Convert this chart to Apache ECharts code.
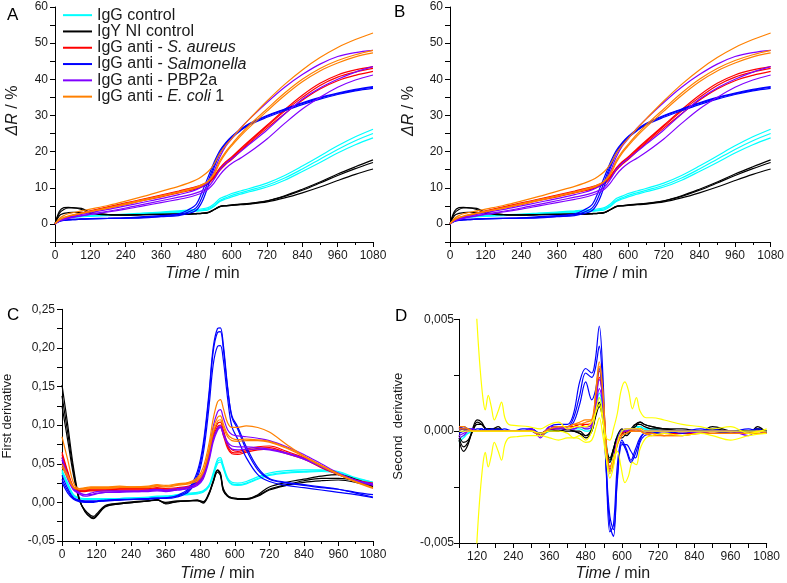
<!DOCTYPE html>
<html><head><meta charset="utf-8">
<script src="https://cdn.jsdelivr.net/npm/echarts@6/dist/echarts.min.js"></script>
<style>html,body{margin:0;padding:0;background:#fff}#c{width:787px;height:583px}</style>
</head><body><div id="c"></div>
<script>
// ---------- Panel A/B : ΔR / % ----------
const tA = [0,15,30,45,60,90,120,180,240,300,360,420,450,480,500,520,540,560,580,600,630,660,720,780,840,900,960,1020,1080];
const aCyan = [
 [0,1.3,1.7,1.9,2.0,2.2,2.3,2.5,2.7,3.0,3.3,3.6,3.8,4.0,4.2,4.5,5.5,7.0,7.7,8.4,9.1,9.8,11.3,13.4,16.0,18.8,21.6,24.1,26.2],
 [0,1.2,1.6,1.8,1.9,2.1,2.2,2.4,2.6,2.9,3.1,3.4,3.5,3.7,3.9,4.2,5.1,6.5,7.2,7.9,8.6,9.3,10.7,12.7,15.2,17.9,20.6,23.0,25.0],
 [0,1.1,1.5,1.7,1.8,2.0,2.1,2.3,2.5,2.7,2.9,3.2,3.3,3.5,3.7,3.9,4.8,6.2,6.9,7.5,8.2,8.9,10.2,12.1,14.5,17.0,19.6,21.9,23.8]
];
const aBlack = [
 [0,3.5,4.5,4.6,4.5,4.3,3.2,2.6,2.5,2.6,2.7,2.7,2.8,2.9,3.0,3.2,4.0,4.9,5.1,5.3,5.5,5.7,6.4,7.8,9.6,11.6,13.8,15.8,17.7],
 [0,3.0,4.0,4.4,4.4,4.0,3.0,2.5,2.4,2.5,2.6,2.7,2.7,2.8,2.9,3.1,3.9,4.8,5.0,5.2,5.4,5.6,6.3,7.6,9.3,11.3,13.4,15.3,17.0],
 [0,2.3,2.9,3.1,3.2,3.2,3.0,2.6,2.5,2.6,2.6,2.7,2.7,2.8,2.9,3.1,3.9,4.8,5.0,5.1,5.3,5.5,6.1,7.2,8.6,10.2,12.0,13.7,15.2]
];
const aRed = [
 [0,1.0,1.5,2.0,2.4,3.0,3.6,4.7,5.8,6.9,8.0,9.1,9.7,10.3,10.9,11.7,13.3,15.5,17.2,18.5,20.8,23.0,27.3,31.6,35.6,38.9,41.2,42.6,43.5],
 [0,0.9,1.4,1.9,2.3,2.9,3.5,4.6,5.6,6.7,7.8,8.9,9.4,10.0,10.6,11.4,13.0,15.2,16.9,18.2,20.5,22.7,27.0,31.2,35.0,38.3,40.6,42.0,43.0],
 [0,0.9,1.3,1.8,2.2,2.8,3.4,4.4,5.4,6.5,7.5,8.6,9.1,9.7,10.3,11.1,12.7,14.8,16.5,17.8,20.1,22.3,26.5,30.5,34.2,37.3,39.6,41.1,42.2]
];
const aBlue = [
 [0,0.8,1.1,1.2,1.3,1.4,1.5,1.6,1.7,2.0,2.3,2.8,3.8,5.5,9.0,13.0,17.0,20.3,22.5,24.2,26.2,27.8,30.0,31.8,33.5,35.0,36.2,37.2,38.0],
 [0,0.8,1.0,1.1,1.2,1.3,1.4,1.5,1.6,1.8,2.1,2.5,3.2,4.5,7.5,11.8,16.2,19.8,22.2,24.0,26.0,27.6,29.8,31.6,33.3,34.8,36.0,37.0,37.8],
 [0,0.7,1.0,1.1,1.2,1.3,1.4,1.5,1.6,1.7,2.0,2.3,2.8,3.8,6.2,10.5,15.5,19.4,22.0,23.8,25.8,27.4,29.5,31.3,33.0,34.5,35.8,36.8,37.5]
];
const aPurple = [
 [0,1.0,1.4,1.8,2.1,2.6,3.1,4.0,5.0,6.0,7.0,8.1,8.7,9.5,10.3,11.5,14.5,18.5,21.5,23.5,26.5,29.0,33.6,37.8,41.3,44.2,46.3,47.4,48.0],
 [0,0.9,1.3,1.6,1.9,2.3,2.7,3.5,4.4,5.4,6.4,7.4,7.9,8.6,9.2,10.2,12.3,15.0,16.8,18.0,20.0,22.0,26.0,30.4,34.5,37.6,40.0,42.0,43.5],
 [0,0.8,1.2,1.5,1.8,2.2,2.6,3.3,4.1,5.0,5.9,6.8,7.3,8.0,8.6,9.6,11.3,13.6,15.4,16.7,18.2,19.8,23.5,27.8,31.8,35.0,37.8,39.8,41.2]
];
const aOrange = [
 [0,1.5,2.3,2.8,3.1,3.6,4.1,5.1,6.3,7.6,9.0,10.4,11.2,12.2,13.2,14.5,16.5,19.5,21.8,23.6,26.4,29.0,34.0,38.6,42.6,46.0,48.8,51.0,52.8],
 [0,1.2,1.8,2.2,2.5,3.0,3.5,4.5,5.6,6.7,7.8,8.9,9.5,10.2,10.9,11.9,14.0,17.5,20.0,22.0,24.8,27.3,31.8,36.2,40.0,43.0,45.2,46.8,48.0],
 [0,1.1,1.7,2.1,2.4,2.9,3.4,4.3,5.4,6.5,7.6,8.7,9.3,10.0,10.7,11.7,13.6,17.0,19.6,21.6,24.3,26.7,31.2,35.5,39.3,42.3,44.5,46.2,47.3]
];

// ---------- Panel C : first derivative ----------
const tC = [0,20,40,60,80,100,110,120,150,200,250,300,330,360,400,440,470,490,510,525,540,550,560,575,590,610,640,680,720,780,840,900,960,1020,1080];
const cCyan = [
 [0.042,0.025,0.010,0.006,0.005,0.005,0.005,0.005,0.005,0.005,0.006,0.007,0.008,0.008,0.010,0.012,0.013,0.015,0.022,0.038,0.056,0.058,0.048,0.032,0.026,0.025,0.027,0.033,0.038,0.041,0.042,0.042,0.040,0.032,0.026],
 [0.040,0.023,0.009,0.005,0.004,0.004,0.004,0.004,0.004,0.005,0.006,0.006,0.007,0.008,0.009,0.011,0.012,0.014,0.021,0.036,0.053,0.055,0.046,0.030,0.024,0.023,0.025,0.031,0.036,0.039,0.040,0.041,0.039,0.031,0.026],
 [0.038,0.022,0.008,0.005,0.004,0.004,0.004,0.004,0.004,0.004,0.005,0.006,0.007,0.007,0.009,0.010,0.011,0.013,0.020,0.034,0.050,0.052,0.044,0.029,0.023,0.022,0.024,0.030,0.035,0.038,0.039,0.040,0.038,0.030,0.025]
];
const cBlack = [
 [0.152,0.10,0.045,0.005,-0.012,-0.020,-0.021,-0.018,-0.006,-0.002,0.000,0.002,0.004,-0.002,0.001,0.002,0.003,-0.001,0.010,0.026,0.041,0.037,0.016,0.008,0.005,0.004,0.004,0.010,0.020,0.026,0.030,0.034,0.036,0.030,0.022],
 [0.138,0.09,0.040,0.004,-0.012,-0.019,-0.020,-0.017,-0.005,-0.002,0.000,0.002,0.003,-0.001,0.001,0.002,0.002,0.000,0.012,0.028,0.042,0.038,0.018,0.009,0.006,0.005,0.005,0.009,0.017,0.023,0.028,0.031,0.031,0.028,0.021],
 [0.125,0.08,0.035,0.003,-0.010,-0.017,-0.018,-0.015,-0.004,-0.001,0.001,0.002,0.003,0.000,0.002,0.002,0.003,0.001,0.011,0.026,0.039,0.035,0.015,0.008,0.006,0.005,0.004,0.008,0.016,0.022,0.026,0.028,0.029,0.026,0.020]
];
const cRed = [
 [0.065,0.040,0.020,0.016,0.016,0.017,0.017,0.017,0.017,0.018,0.018,0.018,0.019,0.018,0.019,0.021,0.026,0.036,0.062,0.088,0.102,0.104,0.094,0.076,0.068,0.066,0.069,0.072,0.073,0.066,0.058,0.047,0.037,0.029,0.025],
 [0.062,0.038,0.019,0.015,0.015,0.016,0.016,0.016,0.016,0.017,0.017,0.017,0.018,0.017,0.018,0.020,0.025,0.034,0.060,0.085,0.098,0.100,0.090,0.073,0.065,0.064,0.067,0.070,0.071,0.064,0.057,0.046,0.036,0.028,0.024],
 [0.058,0.036,0.018,0.014,0.014,0.015,0.015,0.015,0.015,0.016,0.016,0.016,0.017,0.016,0.017,0.019,0.024,0.033,0.058,0.082,0.095,0.097,0.087,0.070,0.063,0.062,0.065,0.068,0.069,0.063,0.056,0.045,0.036,0.028,0.023]
];
const cBlue = [
 [0.035,0.018,0.006,0.003,0.002,0.002,0.002,0.002,0.003,0.004,0.004,0.005,0.006,0.006,0.009,0.018,0.040,0.075,0.140,0.200,0.225,0.226,0.205,0.150,0.110,0.095,0.068,0.042,0.030,0.025,0.022,0.019,0.017,0.013,0.010],
 [0.030,0.015,0.005,0.002,0.001,0.001,0.001,0.001,0.002,0.003,0.004,0.005,0.005,0.006,0.008,0.016,0.036,0.070,0.135,0.195,0.220,0.221,0.200,0.148,0.112,0.098,0.072,0.045,0.031,0.026,0.023,0.020,0.017,0.012,0.007],
 [0.026,0.012,0.004,0.001,0.000,0.000,0.000,0.001,0.002,0.003,0.004,0.004,0.005,0.005,0.007,0.014,0.032,0.062,0.122,0.178,0.202,0.203,0.185,0.135,0.098,0.082,0.058,0.036,0.027,0.022,0.019,0.016,0.013,0.010,0.006]
];
const cPurple = [
 [0.058,0.035,0.018,0.013,0.010,0.012,0.013,0.014,0.015,0.015,0.015,0.016,0.017,0.016,0.018,0.020,0.025,0.036,0.065,0.098,0.117,0.120,0.110,0.094,0.088,0.086,0.085,0.083,0.080,0.072,0.062,0.050,0.038,0.029,0.024],
 [0.055,0.033,0.017,0.011,0.008,0.009,0.010,0.011,0.013,0.014,0.014,0.015,0.016,0.015,0.016,0.018,0.023,0.032,0.056,0.082,0.096,0.099,0.090,0.078,0.073,0.072,0.072,0.071,0.069,0.064,0.057,0.047,0.037,0.028,0.023],
 [0.050,0.030,0.016,0.012,0.010,0.010,0.011,0.012,0.013,0.013,0.014,0.014,0.015,0.014,0.016,0.018,0.022,0.030,0.053,0.078,0.093,0.097,0.088,0.075,0.069,0.068,0.069,0.069,0.068,0.063,0.056,0.046,0.036,0.028,0.022]
];
const cOrange = [
 [0.085,0.055,0.025,0.018,0.019,0.020,0.020,0.020,0.020,0.021,0.020,0.021,0.023,0.022,0.024,0.026,0.032,0.045,0.075,0.108,0.130,0.133,0.122,0.103,0.097,0.097,0.099,0.097,0.091,0.075,0.060,0.048,0.037,0.027,0.019],
 [0.050,0.035,0.020,0.018,0.018,0.019,0.019,0.019,0.019,0.020,0.020,0.020,0.022,0.021,0.023,0.025,0.030,0.040,0.068,0.095,0.110,0.112,0.102,0.088,0.083,0.081,0.082,0.081,0.079,0.071,0.060,0.048,0.036,0.027,0.019],
 [0.046,0.032,0.019,0.017,0.017,0.018,0.018,0.018,0.018,0.019,0.019,0.019,0.021,0.020,0.022,0.024,0.028,0.038,0.064,0.090,0.105,0.107,0.098,0.085,0.080,0.079,0.080,0.080,0.078,0.070,0.059,0.047,0.036,0.026,0.018]
];

// ---------- Panel D : second derivative ----------
const tD = [60,75,90,105,120,135,150,170,190,210,240,270,300,330,360,390,420,440,460,480,500,512,525,537,548,560,572,585,600,615,630,645,660,675,700,740,800,860,900,960,1020,1050,1080];
const dCyan = [
 [-0.0005,-0.0003,-0.0001,0,0,0,0,0,0,0,0,0,0,-0.0001,0,0.0001,0.0001,0.0001,0.0001,0,0.0001,0.0008,0.0017,0.001,-0.0006,-0.0014,-0.0009,-0.0002,0,0,0.0001,0.0002,0.0002,0.0001,0.0001,0,0,0,0,0,0,0,0],
 [-0.0004,-0.0002,-0.0001,0,0,0,0,0,0,0,0,0,0,-0.0002,0,0.0001,0.0001,0.0001,0.0002,0.0001,0.0002,0.0009,0.0015,0.0009,-0.0005,-0.0013,-0.0008,-0.0002,0,0,0.0001,0.0001,0.0002,0.0001,0,0,0,0,0,0,0,0,0]
];
const dBlack = [
 [-0.0004,-0.0009,-0.0006,0.0001,0.0005,0.0004,0.0001,0.0001,0.0002,0,0,0,0.0001,-0.0002,0.0001,0,0.0001,0,-0.0001,-0.0003,0,0.0007,0.0012,0.0006,-0.0008,-0.0013,-0.0008,-0.0002,0.0001,-0.0001,0,0.0003,0.0004,0.0003,0.0002,0.0001,0.0001,0,0.0002,0,-0.0001,0.0002,-0.0001],
 [-0.0003,-0.0007,-0.0005,0,0.0004,0.0003,0.0001,0.0001,0.0001,0,0,0,0,-0.0001,0.0001,0,0,0,-0.0001,-0.0002,0,0.0006,0.0011,0.0005,-0.0009,-0.0014,-0.0009,-0.0003,-0.0001,-0.0002,0,0.0002,0.0004,0.0003,0.0002,0.0001,0,0,0.0001,0,0,0.0001,0],
 [-0.0002,-0.0005,-0.0004,0,0.0003,0.0003,0.0001,0,0.0001,0,0,0,0,-0.0001,0,0,0.0001,0,0,-0.0002,0.0001,0.0007,0.0013,0.0006,-0.0007,-0.0012,-0.0008,-0.0003,-0.0003,-0.0001,0.0001,0.0003,0.0003,0.0002,0.0001,0.0001,0,0,0.0001,0,0,0.0001,0]
];
const dRed = [
 [0.0001,0.0001,0.0001,0,0,0,0,0,0,0,0,0,0,-0.0002,0.0001,0.0002,0.0001,0.0002,0.0003,0.0003,0.0004,0.0013,0.0027,0.0016,-0.0006,-0.0016,-0.0012,-0.0004,-0.0001,0,0,0.0001,0.0001,0,-0.0001,-0.0001,-0.0001,-0.0001,0,-0.0001,-0.0001,0,-0.0001],
 [0.0002,0.0001,0,0,0,0,0,0,0,0,0,0,0,-0.0001,0.0001,0.0001,0.0002,0.0002,0.0003,0.0002,0.0003,0.0012,0.0024,0.0014,-0.0007,-0.0017,-0.0013,-0.0004,-0.0001,0,0,0.0001,0.0001,0,-0.0001,-0.0002,-0.0001,-0.0001,-0.0001,-0.0001,0,-0.0001,-0.0001]
];
const dBlue = [
 [0.0001,0.0002,0.0001,0,0.0001,0.0001,0,0.0001,0,0,0,0.0001,0.0001,-0.0002,0.0002,0.0003,0.0003,0.0008,0.0022,0.0028,0.0026,0.0032,0.0047,0.0025,-0.0015,-0.0045,-0.0042,-0.0015,-0.0004,-0.0008,-0.0013,-0.0008,-0.0003,-0.0001,-0.0001,0,0,0.0001,0,-0.0001,0,0.0001,-0.0001],
 [0,0.0001,0.0001,0.0001,0,0,0.0001,0,0.0001,0,0,0,0.0001,-0.0001,0.0001,0.0002,0.0002,0.0006,0.0016,0.0026,0.0024,0.0028,0.0038,0.0018,-0.0018,-0.0042,-0.0047,-0.002,-0.0005,-0.0009,-0.0014,-0.001,-0.0004,-0.0001,-0.0001,-0.0001,0,0,0.0001,-0.0001,0,0,-0.0001],
 [-0.0001,0,0.0001,0,0,0.0001,0,0,0,0.0001,0,0,0,-0.0002,0.0001,0.0002,0.0002,0.0004,0.0012,0.0022,0.0014,0.0018,0.0028,0.0012,-0.0016,-0.0038,-0.0044,-0.0022,-0.0006,-0.0006,-0.0009,-0.0012,-0.0005,-0.0002,-0.0001,0,-0.0001,0,0,0,0.0001,0,0]
];
const dPurple = [
 [-0.0003,-0.0002,0,0.0001,0,0,0,0,0,0,0,0,0.0001,-0.0003,0.0002,0.0002,0.0001,0.0001,0.0002,0.0002,0.0003,0.0011,0.0023,0.0014,-0.0007,-0.0019,-0.0014,-0.0004,0,0.0001,0.0001,0.0001,0,0,0,0,0,-0.0001,0,0,-0.0002,0,-0.0001],
 [-0.0002,-0.0001,0,0,0,0,0,0,0,0,0,0,0,-0.0002,0.0001,0.0001,0.0001,0.0001,0.0002,0.0001,0.0002,0.0009,0.0019,0.0011,-0.0008,-0.0018,-0.0013,-0.0004,0,0,0.0001,0,0,0,0,0,0,0,0,0,-0.0001,0,-0.0001]
];
const dOrange = [
 [0.0002,0.0002,0.0001,0,0,0,0,0,0,0,0,0,0,-0.0001,0.0001,0.0002,0.0002,0.0003,0.0004,0.0005,0.0005,0.0016,0.0031,0.0018,-0.0005,-0.0016,-0.0014,-0.0006,-0.0002,-0.0001,0,0,0,-0.0001,-0.0002,-0.0002,-0.0002,-0.0001,-0.0001,-0.0001,-0.0001,-0.0001,-0.0001],
 [0.0001,0.0001,0.0001,0,0,0,0,0,0,0,0,0,0,-0.0002,0.0001,0.0002,0.0002,0.0003,0.0003,0.0004,0.0005,0.0015,0.0029,0.0017,-0.0006,-0.0018,-0.0015,-0.0006,-0.0002,-0.0001,0,0,0,-0.0001,-0.0001,-0.0002,-0.0002,-0.0001,-0.0001,-0.0001,-0.0001,0,-0.0001]
];
const dYellowMean = [0,0,0,0,0,0,0,0,0,0,0,0,0,-0.0001,0,0,-0.0001,-0.0003,-0.0002,-0.0004,0,0.0008,0.0015,0.0006,-0.0012,-0.0021,-0.0016,-0.0005,0,0.0001,0.0001,0.0001,0.0001,0,0,0,0,0,0,0,0,0,0];
const tDy = [100,110,120,130,140,147,157,167,177,190,201,212,225,250,290,330,360,390,420,450,480,500,515,525,537,548,560,572,585,597,610,622,635,648,660,680,700,740,800,860,900,960,1020,1080];
const dYellowUp = [0.012,0.0075,0.0048,0.0028,0.0014,0.00095,0.0016,0.0011,0.0005,0.0009,0.0013,0.0006,0.0003,0.00025,0.0002,0.0001,0.0003,0.0004,0.0001,0.0002,0.0002,0.0004,0.0009,0.0012,0.0004,-0.0003,-0.0004,0.0001,0.0008,0.0018,0.0022,0.0018,0.001,0.0015,0.0009,0.0006,0.0006,0.0005,0.0003,0.0002,0.0001,0.0002,-0.0001,0.0001];
const dYellowLow = [-0.012,-0.0075,-0.0048,-0.0028,-0.0014,-0.00095,-0.0016,-0.0011,-0.0005,-0.0009,-0.0013,-0.0006,-0.0003,-0.00025,-0.0002,-0.0002,-0.0003,-0.0004,-0.0003,-0.0003,-0.0005,-0.0004,0.0002,0.0006,-0.0002,-0.0012,-0.0019,-0.0012,-0.0009,-0.0016,-0.0023,-0.002,-0.0014,-0.0015,-0.0008,-0.0003,-0.0002,-0.0001,-0.0002,-0.0001,-0.0002,-0.0004,-0.0002,-0.0001];

const names = ['IgG control','IgY NI control','IgG anti - S. aureus','IgG anti - Salmonella','IgG anti - PBP2a','IgG anti - E. coli 1'];
const colors = ['#00FFFF','#000000','#FF0000','#0000FF','#8000FF','#FF8000'];
const yellow = '#FFFF00';

// ---------- build ----------
const FF = 'Arial, "Liberation Sans", sans-serif';
const TXT = '#1a1a1a';
const series = [];
function pairs(t, v){ return t.map((x,i)=>[x, v[i]]); }
function add(gi, t, curves, name, color){
  curves.forEach(c => series.push({
    type:'line', name, xAxisIndex:gi, yAxisIndex:gi, data:pairs(t,c),
    symbol:'none', smooth:0.35, silent:true, animation:false,
    lineStyle:{color, width:1.2}, itemStyle:{color}, emphasis:{disabled:true}
  }));
}
const aSets = [aCyan,aBlack,aRed,aBlue,aPurple,aOrange];
const cSets = [cCyan,cBlack,cRed,cBlue,cPurple,cOrange];
const dSets = [dCyan,dBlack,dRed,dBlue,dPurple,dOrange];
[0,1].forEach(g => aSets.forEach((s,i)=>add(g, tA, s, names[i], colors[i])));
cSets.forEach((s,i)=>add(2, tC, s, names[i], colors[i]));
dSets.forEach((s,i)=>add(3, tD, s, names[i], colors[i]));
add(3, tD, [dYellowMean], 'yellow', yellow);
add(3, tDy, [dYellowUp, dYellowLow], 'yellow', yellow);

const italicRich = {i:{fontStyle:'italic', fontSize:16, fontFamily:FF, color:TXT}};
function xAx(g, min, interval, minor, fmt, nameGap, pad){
  return {type:'value', gridIndex:g, min, max:1080, interval,
    axisLine:{show:true, onZero:false, lineStyle:{color:'#000', width:1}},
    axisTick:{show:true, inside:false, length:5, lineStyle:{color:'#000'}},
    minorTick:{show:minor, splitNumber:2, length:3, lineStyle:{color:'#000'}},
    splitLine:{show:false}, minorSplitLine:{show:false},
    axisLabel:{fontSize:12, fontFamily:FF, color:TXT, margin:8, formatter:fmt},
    name:'{i|Time} / min', nameLocation:'middle', nameGap,
    nameTextStyle:{fontSize:16, fontFamily:FF, color:TXT, rich:italicRich, padding:pad}};
}
function yAx(g, min, max, interval, fmt, name, nameSize, nameGap, pad, margin){
  return {type:'value', gridIndex:g, min, max, interval,
    axisLine:{show:true, onZero:false, lineStyle:{color:'#000', width:1}},
    axisTick:{show:true, inside:false, length:5, lineStyle:{color:'#000'}},
    splitLine:{show:false},
    axisLabel:{fontSize:12, fontFamily:FF, color:TXT, margin, formatter:fmt},
    name, nameLocation:'middle', nameGap,
    nameTextStyle:{fontSize:nameSize, fontFamily:FF, color:TXT, rich:italicRich, padding:pad}};
}
const fmtX = v => String(v);
const fmtXD = v => (v % 120 === 0 ? String(v) : '');
const fmtA = v => (v % 10 === 0 ? String(v) : '');
const fmtC = v => { const k = Math.round(v*1000); return k % 50 === 0 ? (k/1000).toFixed(2).replace('.', ',') : ''; };
const fmtD = v => { const k = Math.round(v*10000); return k % 50 === 0 ? (k/10000).toFixed(3).replace('.', ',') : ''; };

const legendFmt = n => {
  if (n === 'IgG anti - S. aureus') return '{n|IgG anti - }{i|S. aureus}';
  if (n === 'IgG anti - Salmonella') return '{n|IgG anti - }{i|Salmonella}';
  if (n === 'IgG anti - E. coli 1') return '{n|IgG anti - }{i|E. coli}{n| 1}';
  return '{n|' + n + '}';
};

const option = {
  animation:false,
  backgroundColor:'#fff',
  grid:[
    {left:55, top:7, width:318, height:235},
    {left:450, top:7, width:321.5, height:235},
    {left:62, top:309.3, width:311, height:231.7},
    {left:459, top:319.3, width:307.7, height:224}
  ],
  xAxis:[
    xAx(0, 0, 120, true, fmtX, 24, [0,23,0,0]),
    xAx(1, 0, 120, true, fmtX, 24, [0,0,0,0]),
    xAx(2, 0, 120, true, fmtX, 25, [0,0,0,0]),
    xAx(3, 60, 60, false, fmtXD, 23, [0,0,0,0])
  ],
  yAxis:[
    yAx(0, -5, 60, 5, fmtA, '{i|ΔR} / %', 16, 34, [0,0,0,28], 7),
    yAx(1, -5, 60, 5, fmtA, '{i|ΔR} / %', 16, 33, [0,0,0,27], 7),
    yAx(2, -0.05, 0.25, 0.025, fmtC, 'First derivative', 13, 48, [0,0,0,18], 7),
    yAx(3, -0.005, 0.005, 0.0025, fmtD, 'Second  derivative', 13, 54, [0,0,0,10], 5)
  ],
  legend:{
    left:63, top:7, orient:'vertical', padding:0, itemGap:0,
    icon:'rect', itemWidth:29, itemHeight:2, data:names, selectedMode:false,
    formatter:legendFmt,
    textStyle:{fontSize:16, fontFamily:FF, color:TXT, lineHeight:16.3,
      rich:{n:{fontSize:16, fontFamily:FF, color:TXT, lineHeight:16.3},
            i:{fontSize:16, fontFamily:FF, color:TXT, fontStyle:'italic', lineHeight:16.3}}}
  },
  graphic:[
    {type:'text', left:7, top:6.5, silent:true, style:{text:'A', font:'17px Arial, "Liberation Sans", sans-serif', fill:'#000'}},
    {type:'text', left:394, top:4, silent:true, style:{text:'B', font:'17px Arial, "Liberation Sans", sans-serif', fill:'#000'}},
    {type:'text', left:7, top:306.5, silent:true, style:{text:'C', font:'17px Arial, "Liberation Sans", sans-serif', fill:'#000'}},
    {type:'text', left:395, top:308, silent:true, style:{text:'D', font:'17px Arial, "Liberation Sans", sans-serif', fill:'#000'}}
  ],
  series
};
const chart = echarts.init(document.getElementById('c'), null, {renderer:'canvas'});
chart.setOption(option);
</script></body></html>
